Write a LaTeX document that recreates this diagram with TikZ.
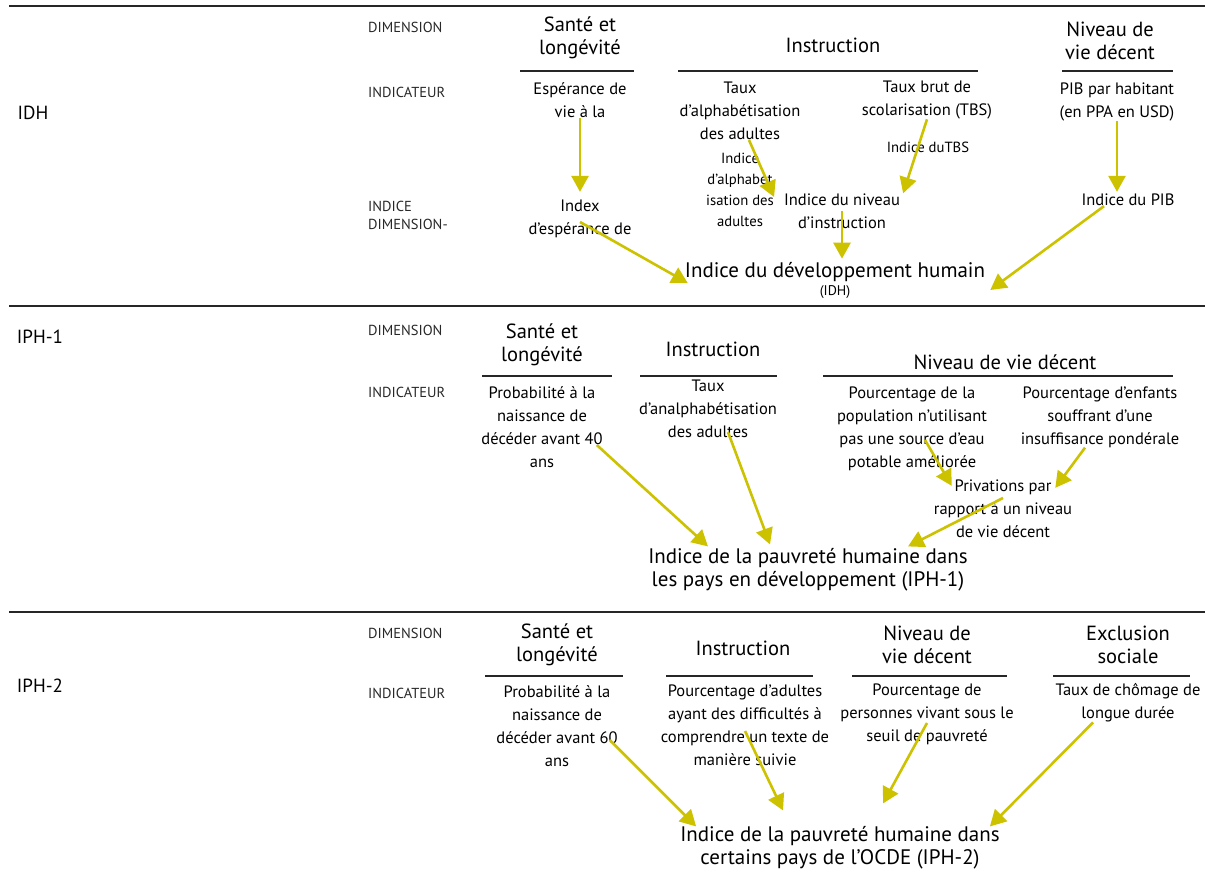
\documentclass[tikz,border=0pt]{standalone}
\usepackage{fontspec}
\setmainfont{PT Sans}
\usetikzlibrary{arrows.meta}
\definecolor{flowyellow}{RGB}{204,194,0}
\definecolor{tagtext}{RGB}{40,40,40}

\begin{document}
\begin{tikzpicture}[x=1pt,y=-1pt,
    rowlbl/.style={inner sep=0pt, font=\fontsize{19}{22}\selectfont},
    coltag/.style={anchor=west, inner sep=0pt, align=left, text=tagtext,
        font=\fontsize{14.5}{18}\selectfont},
    dimtxt/.style={inner sep=0pt, align=center, font=\fontsize{20.5}{23}\selectfont},
    indtxt/.style={inner sep=0pt, align=center, font=\fontsize{16.5}{23}\selectfont},
    subtxt/.style={inner sep=0pt, align=center, font=\fontsize{14.7}{21}\selectfont},
    idxtxt/.style={inner sep=0pt, align=center, font=\fontsize{21}{23}\selectfont},
    sepline/.style={line width=1.6pt, black!85},
    rule/.style={line width=1.4pt, black!85},
    flow/.style={color=flowyellow, line width=2.6pt,
        -{Triangle[length=16pt,width=17pt]}}]
\useasboundingbox (0,0) rectangle (1205,877);

% separators
\draw[sepline] (9,6) -- (1205,6);
\draw[sepline] (9,306) -- (1205,306);
\draw[sepline] (9,612) -- (1205,612);

% ---------------- IDH
\node[rowlbl] at (33,113)(idhrow){IDH};
\node[coltag] at (368,27)(dim1){DIMENSION};
\node[coltag] at (368,92)(ind1){INDICATEUR};
\node[coltag] at (368,215)(idim1){INDICE\\DIMENSION-};

\node[dimtxt] at (580,38)(sante1){Santé et\\longévité};
\node[dimtxt] at (833,45)(instr1){Instruction};
\node[dimtxt] at (1110,41)(niveau1){Niveau de\\vie décent};
\draw[rule] (520,71) -- (634,71);
\draw[rule] (678,71) -- (978,71);
\draw[rule] (1062,71) -- (1173,71);

\node[indtxt] at (580,100)(esp){Espérance de\\vie à la};
\node[indtxt] at (740,111)(alpha){Taux\\d’alphabétisation\\des adultes};
\node[indtxt] at (927,100)(tbs){Taux brut de\\scolarisation (TBS)};
\node[indtxt] at (1117,102)(pib){PIB par habitant\\(en PPA en USD)};

\node[subtxt] at (928,147)(tbsidx){Indice duTBS};
\node[subtxt] at (740,190)(alphaidx){Indice\\d’alphabet\\isation des\\adultes};
\node[indtxt] at (580,219)(idxesp){Index\\d’espérance de};
\node[indtxt] at (842,211)(niv){Indice du niveau\\d’instruction};
\node[indtxt] at (1128,200)(pibidx){Indice du PIB};

\node[idxtxt] at (835,280)(idh){Indice du développement humain\\[-5pt]{\fontsize{14}{16}\selectfont (IDH)}};

\path[flow]
(esp.south)edge([yshift=8pt]idxesp.north)
([xshift=9pt]alpha.south)edge([yshift=-7pt]alphaidx.east)
(tbs.south)edge([xshift=3pt]niv.north east)
(niv.center)edge([yshift=3pt]niv.center |- idh.north)
(pib.south)edge([yshift=2pt]pib.south |- pibidx.north)
([xshift=-24pt]pibidx.south)edge([shift={(5pt,-10pt)}]idh.east)
([yshift=-3pt]idxesp.center)edge([shift={(3pt,-3pt)}]idh.west)
;

% ---------------- IPH-1
\node[rowlbl] at (40,337)(iph1row){IPH-1};
\node[coltag] at (368,330)(dim2){DIMENSION};
\node[coltag] at (368,392)(ind2){INDICATEUR};

\node[dimtxt] at (542,345)(sante2){Santé et\\longévité};
\node[dimtxt] at (713,349)(instr2){Instruction};
\node[dimtxt] at (1005,362)(niveau2){Niveau de vie décent};
\draw[rule] (482,376) -- (612,376);
\draw[rule] (640,376) -- (777,376);
\draw[rule] (823,376) -- (1173,376);

\node[indtxt] at (542,427)(prob40){Probabilité à la\\naissance de\\décéder avant 40\\ans};
\node[indtxt] at (708,409)(analpha){Taux\\d’analphabétisation\\des adultes};
\node[indtxt] at (912,429)(eau){Pourcentage de la\\population n’utilisant\\pas une source d’eau\\potable améliorée};
\node[indtxt] at (1100,417)(enf){Pourcentage d’enfants\\souffrant d’une\\insuffisance pondérale};
\node[indtxt] at (1003,509)(priv){Privations par\\rapport à un niveau\\de vie décent};

\node[idxtxt] at (808,570)(iph1){Indice de la pauvreté humaine dans\\les pays en développement (IPH-1)};

\path[flow]
([xshift=-6pt,yshift=-18pt]prob40.east)edge([shift={(-100pt,2pt)}]iph1.north)
([xshift=20pt,yshift=6pt]analpha.south)edge([shift={(-38pt,4pt)}]iph1.north)
([shift={(13pt,-11pt)}]eau.center)edge([shift={(18pt,-6pt)}]priv.north west)
([xshift=-15pt]enf.south)edge([shift={(-17pt,-8pt)}]priv.north east)
([yshift=11pt]priv.center)edge([shift={(100pt,2pt)}]iph1.north)
;

% ---------------- IPH-2
\node[rowlbl] at (40,686)(iph2row){IPH-2};
\node[coltag] at (368,633)(dim3){DIMENSION};
\node[coltag] at (368,693)(ind3){INDICATEUR};

\node[dimtxt] at (557,645)(sante3){Santé et\\longévité};
\node[dimtxt] at (743,648)(instr3){Instruction};
\node[dimtxt] at (927,645)(niveau3){Niveau de\\vie décent};
\node[dimtxt] at (1128,645)(exclu){Exclusion\\sociale};
\draw[rule] (485,676) -- (623,676);
\draw[rule] (666,676) -- (813,676);
\draw[rule] (852,676) -- (1007,676);
\draw[rule] (1053,676) -- (1190,676);

\node[indtxt] at (557,726)(prob60){Probabilité à la\\naissance de\\décéder avant 60\\ans};
\node[indtxt] at (745,725)(diff){Pourcentage d’adultes\\ayant des difficultés à\\comprendre un texte de\\manière suivie};
\node[indtxt] at (927,714)(pauv){Pourcentage de\\personnes vivant sous le\\seuil de pauvreté};
\node[indtxt] at (1128,703)(chom){Taux de chômage de\\longue durée};

\node[idxtxt] at (840,848)(iph2){Indice de la pauvreté humaine dans\\certains pays de l’OCDE (IPH-2)};

\path[flow]
([xshift=-8pt,yshift=-14pt]prob60.east)edge([shift={(16pt,0pt)}]iph2.north west)
([yshift=-6pt]diff.center)edge([shift={(-57pt,16pt)}]iph2.north)
([yshift=-9pt]pauv.center)edge([shift={(43pt,23pt)}]iph2.north)
([xshift=-35pt]chom.south)edge([shift={(-10pt,0pt)}]iph2.north east)
;
\end{tikzpicture}
\end{document}
